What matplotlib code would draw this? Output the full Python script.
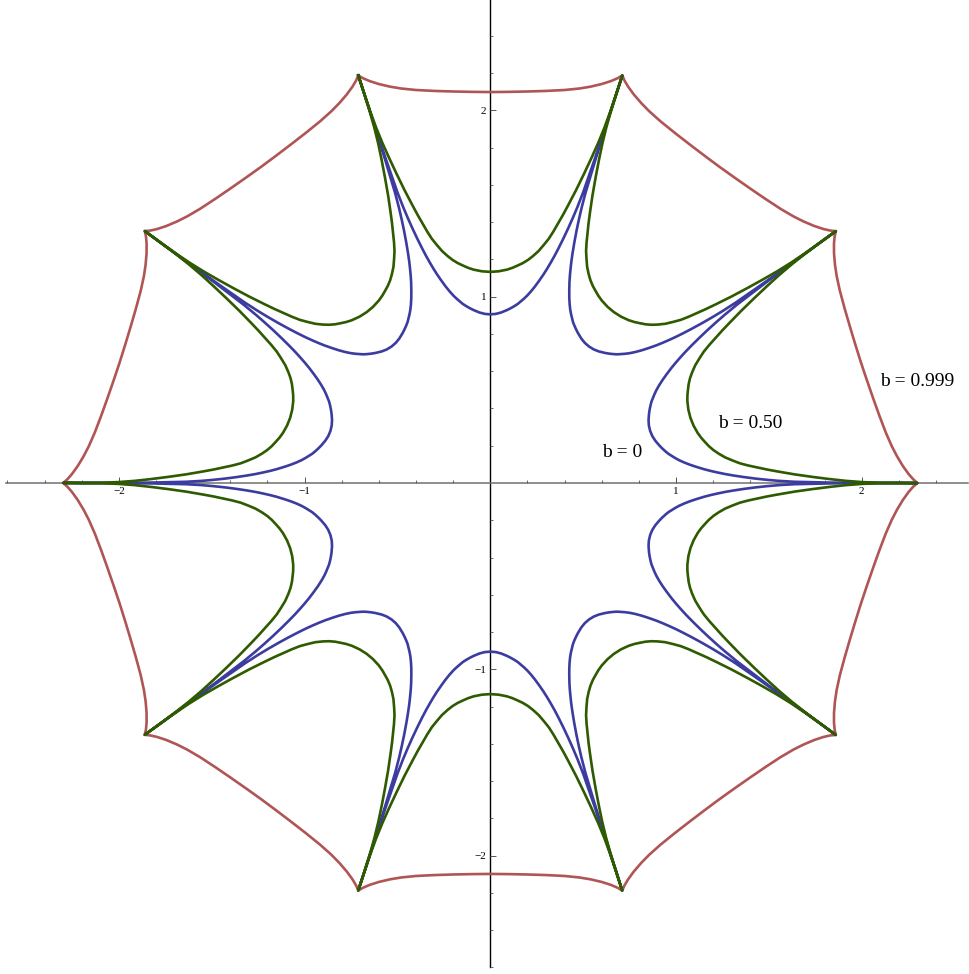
import numpy as np
import matplotlib
matplotlib.use("Agg")
import matplotlib.pyplot as plt
from matplotlib.ticker import FixedLocator

# Half-arc of each curve: from the mid-point on the
# positive y axis (90 deg) out to the cusp at 72 deg. The full figure has
# ten-fold dihedral symmetry, so the rest is obtained by reflection/rotation.
blue_x = [0.000, 0.030, 0.0585, 0.090, 0.110, 0.131, 0.148, 0.165, 0.180,
          0.198, 0.218, 0.240, 0.262, 0.287, 0.306, 0.325, 0.346, 0.367,
          0.392, 0.420, 0.445, 0.470, 0.500, 0.530, 0.563, 0.596, 0.626,
          0.655, 0.683, 0.711]
blue_y = [0.905, 0.9075, 0.915, 0.928, 0.938, 0.950, 0.961, 0.975, 0.988,
          1.005, 1.027, 1.054, 1.084, 1.120, 1.150, 1.182, 1.219, 1.259,
          1.309, 1.368, 1.424, 1.483, 1.560, 1.645, 1.740, 1.838, 1.927,
          2.015, 2.101, 2.187]

green_x = [0.000, 0.045, 0.090, 0.120, 0.145, 0.175, 0.203, 0.230, 0.260,
           0.290, 0.315, 0.340, 0.365, 0.392, 0.419, 0.462, 0.505, 0.545,
           0.581, 0.615, 0.645, 0.678, 0.711]
green_y = [1.133, 1.136, 1.145, 1.155, 1.166, 1.180, 1.197, 1.218, 1.245,
           1.280, 1.311, 1.350, 1.393, 1.440, 1.490, 1.572, 1.660, 1.745,
           1.825, 1.908, 1.990, 2.087, 2.187]

red_x = [0.000, 0.100, 0.200, 0.300, 0.400, 0.480, 0.540, 0.600, 0.650,
         0.685, 0.711]
red_y = [2.098, 2.099, 2.101, 2.104, 2.109, 2.117, 2.127, 2.141, 2.157,
         2.172, 2.187]

n_fold = 10
labels = ["b = 0", "b = 0.50", "b = 0.999"]
label_x = [0.71, 1.40, 2.30]
label_y = [0.166, 0.317, 0.542]

major_ticks = [-2, -1, 1, 2]
tick_labels = ["\u22122", "\u22121", "1", "2"]

col_red = "#B05555"
col_blue = "#3C3CA0"
col_green = "#2E5A00"


def full_curve(hx, hy):
    hx = np.asarray(hx, float)
    hy = np.asarray(hy, float)
    tx = np.concatenate([-hx[::-1], hx[1:]])
    ty = np.concatenate([hy[::-1], hy[1:]])
    xs, ys = [], []
    for k in range(n_fold):
        a = -2 * np.pi * k / n_fold
        X = tx * np.cos(a) - ty * np.sin(a)
        Y = tx * np.sin(a) + ty * np.cos(a)
        if k > 0:
            X, Y = X[1:], Y[1:]
        xs.append(X)
        ys.append(Y)
    return np.concatenate(xs), np.concatenate(ys)


fig = plt.figure(figsize=(9.70, 9.74), dpi=100)
ax = fig.add_axes([0, 0, 1, 1])
ax.set_xlim(-2.640, 2.583)
ax.set_ylim(-2.635, 2.592)

for hx, hy, c, z in [(red_x, red_y, col_red, 3),
                     (blue_x, blue_y, col_blue, 4),
                     (green_x, green_y, col_green, 5)]:
    X, Y = full_curve(hx, hy)
    ax.plot(X, Y, color=c, lw=1.9, zorder=z, solid_joinstyle="round")

serif = ["Liberation Serif", "DejaVu Serif"]
for t, x, y in zip(labels, label_x, label_y):
    ax.text(x, y, t, ha="center", va="center", fontsize=14, family=serif,
            color="black", zorder=6)

for s in ["top", "right"]:
    ax.spines[s].set_visible(False)
ax.spines["left"].set_position(("data", 0))
ax.spines["bottom"].set_position(("data", 0))
ax.spines["left"].set_bounds(-2.60, 2.59)
ax.spines["bottom"].set_bounds(-2.61, 2.57)
ax.spines["left"].set_color("black")
ax.spines["left"].set_linewidth(1.0)
ax.spines["bottom"].set_color("#707070")
ax.spines["bottom"].set_linewidth(1.1)
ax.spines["left"].set_zorder(1)
ax.spines["bottom"].set_zorder(1)

minor = [round(0.2 * i, 1) for i in range(-13, 14)
         if i % 5 != 0]
for axis in (ax.xaxis, ax.yaxis):
    axis.set_major_locator(FixedLocator(major_ticks))
    axis.set_minor_locator(FixedLocator(minor))
ax.set_xticklabels(tick_labels)
ax.set_yticklabels(tick_labels)
ax.tick_params(which="major", direction="in", length=4, width=0.7,
               color="#555555", labelsize=8, pad=3)
ax.tick_params(which="minor", direction="in", length=2.5, width=0.6,
               color="#555555")
for lab in ax.get_xticklabels() + ax.get_yticklabels():
    lab.set_family(serif)

fig.savefig("out.png", dpi=100, facecolor="white")
